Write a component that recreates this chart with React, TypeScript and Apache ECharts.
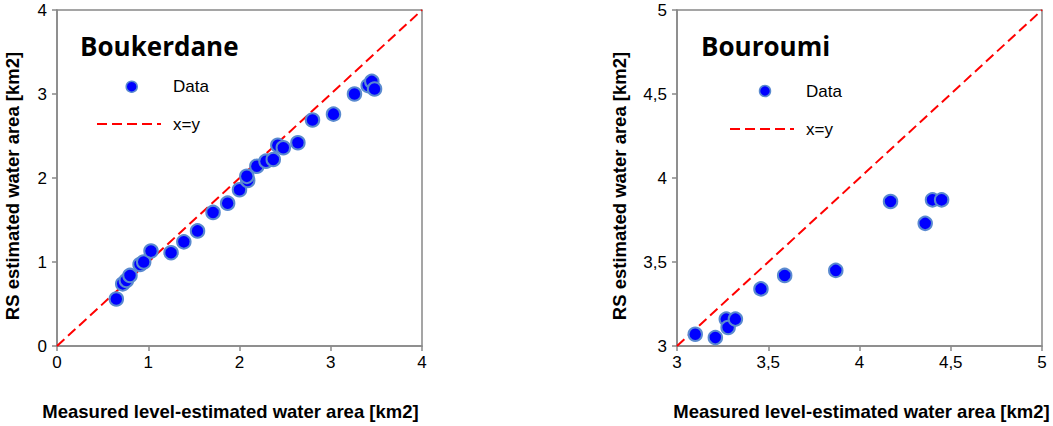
import React, { useEffect, useRef } from 'react';
import * as echarts from 'echarts';

// Boukerdane: measured level-estimated area vs RS estimated area [km2]
const boukerdaneMeasured = [0.65, 0.72, 0.76, 0.8, 0.91, 0.95, 1.03, 1.25, 1.39, 1.54, 1.71, 1.87, 2.0, 2.09, 2.08, 2.19, 2.29, 2.37, 2.42, 2.48, 2.64, 2.8, 3.03, 3.26, 3.41, 3.45, 3.48];
const boukerdaneRS = [0.56, 0.74, 0.78, 0.84, 0.97, 1.0, 1.13, 1.11, 1.24, 1.37, 1.59, 1.7, 1.86, 1.97, 2.02, 2.14, 2.2, 2.22, 2.39, 2.36, 2.42, 2.69, 2.76, 3.0, 3.1, 3.15, 3.06];

// Bouroumi
const bouroumiMeasured = [3.1, 3.21, 3.27, 3.28, 3.32, 3.46, 3.59, 3.87, 4.17, 4.36, 4.4, 4.45];
const bouroumiRS = [3.07, 3.05, 3.16, 3.11, 3.16, 3.34, 3.42, 3.45, 3.86, 3.73, 3.87, 3.87];

const titles = ['Boukerdane', 'Bouroumi'];
const legendLabels = ['Data', 'x=y'];
const xAxisTitle = 'Measured level-estimated water area [km2]';
const yAxisTitle = 'RS estimated water area [km2]';
const leftRange = [0, 4, 1];
const rightRange = [3, 5, 0.5];

const zip = (a: number[], b: number[]) => a.map((v, i) => [v, b[i]]);

export default function App() {
  const ref = useRef<HTMLDivElement>(null);
  useEffect(() => {
    const chart = echarts.init(ref.current!, undefined, { renderer: 'svg' });
    const gray = '#888888';
    const font = 'Liberation Sans, Arial, sans-serif';
    const blue = '#0000FF';
    const border = '#5A8AD0';
    const red = '#FF0000';
    const dash = [10, 5];
    const fmt = (v: number) => String(v).replace('.', ',');
    const axisCommon = {
      type: 'value',
      axisLine: { show: true, lineStyle: { color: gray, width: 1.5 } },
      axisTick: { show: true, inside: false, length: 5, lineStyle: { color: gray, width: 1.5 } },
      splitLine: { show: false },
      axisLabel: { color: '#000', fontSize: 17, fontFamily: font, formatter: fmt },
      nameLocation: 'middle',
      nameTextStyle: { color: '#000', fontSize: 18.5, fontWeight: 'bold', fontFamily: font },
    };
    const xAx = (i: number, r: number[], pad: number[]) => ({
      ...axisCommon,
      gridIndex: i,
      min: r[0], max: r[1], interval: r[2],
      name: xAxisTitle,
      nameGap: 56,
      nameTextStyle: { ...axisCommon.nameTextStyle, padding: pad },
      axisLabel: { ...axisCommon.axisLabel, margin: 8 },
    });
    const yAx = (i: number, r: number[], gap: number) => ({
      ...axisCommon,
      gridIndex: i,
      min: r[0], max: r[1], interval: r[2],
      name: yAxisTitle,
      nameGap: gap,
      nameTextStyle: { ...axisCommon.nameTextStyle, padding: [0, 16, 0, 0] },
      axisLabel: { ...axisCommon.axisLabel, margin: 10 },
    });
    const scatterStyle = {
      type: 'scatter',
      name: legendLabels[0],
      symbol: 'circle',
      symbolSize: 13.5,
      itemStyle: { color: blue, borderColor: border, borderWidth: 2, opacity: 1 },
      z: 3,
    };
    const lineStyle = {
      type: 'line',
      name: legendLabels[1],
      symbol: 'none',
      color: red,
      lineStyle: { color: red, width: 2, type: dash },
      z: 2,
    };
    const legendGraphic = (mx: number, my: number, lx0: number, lx1: number, ly: number, tx: number) => [
      { type: 'circle', shape: { cx: mx, cy: my, r: 5.5 }, style: { fill: blue, stroke: border, lineWidth: 1.5 } },
      { type: 'text', x: tx, y: my, style: { text: legendLabels[0], font: `17px ${font}`, fill: '#000', verticalAlign: 'middle' } },
      { type: 'line', shape: { x1: lx0, y1: ly, x2: lx1, y2: ly }, style: { stroke: red, lineWidth: 2, lineDash: dash } },
      { type: 'text', x: tx, y: ly, style: { text: legendLabels[1], font: `17px ${font}`, fill: '#000', verticalAlign: 'middle' } },
    ];
    chart.setOption({
      animation: false,
      title: [
        { text: titles[0], left: 80, top: 33, padding: 0, textStyle: { fontSize: 26, fontWeight: 'bold', fontFamily: 'Open Sans, sans-serif', color: '#000' } },
        { text: titles[1], left: 701, top: 33, padding: 0, textStyle: { fontSize: 26, fontWeight: 'bold', fontFamily: 'Open Sans, sans-serif', color: '#000' } },
      ],
      graphic: [
        ...legendGraphic(131.7, 86.7, 97, 161, 124, 173),
        ...legendGraphic(765, 91, 730, 794, 129, 806),
      ],
      grid: [
        { left: 57, top: 10, width: 365, height: 336, show: true, borderColor: gray, borderWidth: 1.5, backgroundColor: 'transparent' },
        { left: 677, top: 10, width: 365, height: 336, show: true, borderColor: gray, borderWidth: 1.5, backgroundColor: 'transparent' },
      ],
      xAxis: [xAx(0, leftRange, [0, 18, 0, 0]), xAx(1, rightRange, [0, 0, 0, 4])],
      yAxis: [yAx(0, leftRange, 35), yAx(1, rightRange, 48)],
      series: [
        { ...lineStyle, xAxisIndex: 0, yAxisIndex: 0, data: [[leftRange[0], leftRange[0]], [leftRange[1], leftRange[1]]] },
        { ...scatterStyle, xAxisIndex: 0, yAxisIndex: 0, data: zip(boukerdaneMeasured, boukerdaneRS) },
        { ...lineStyle, xAxisIndex: 1, yAxisIndex: 1, data: [[rightRange[0], rightRange[0]], [rightRange[1], rightRange[1]]] },
        { ...scatterStyle, xAxisIndex: 1, yAxisIndex: 1, data: zip(bouroumiMeasured, bouroumiRS) },
      ],
    });
    return () => chart.dispose();
  }, []);
  return <div ref={ref} style={{ position: 'fixed', left: 0, top: 0, width: 1053, height: 426, background: '#fff' }} />;
}
